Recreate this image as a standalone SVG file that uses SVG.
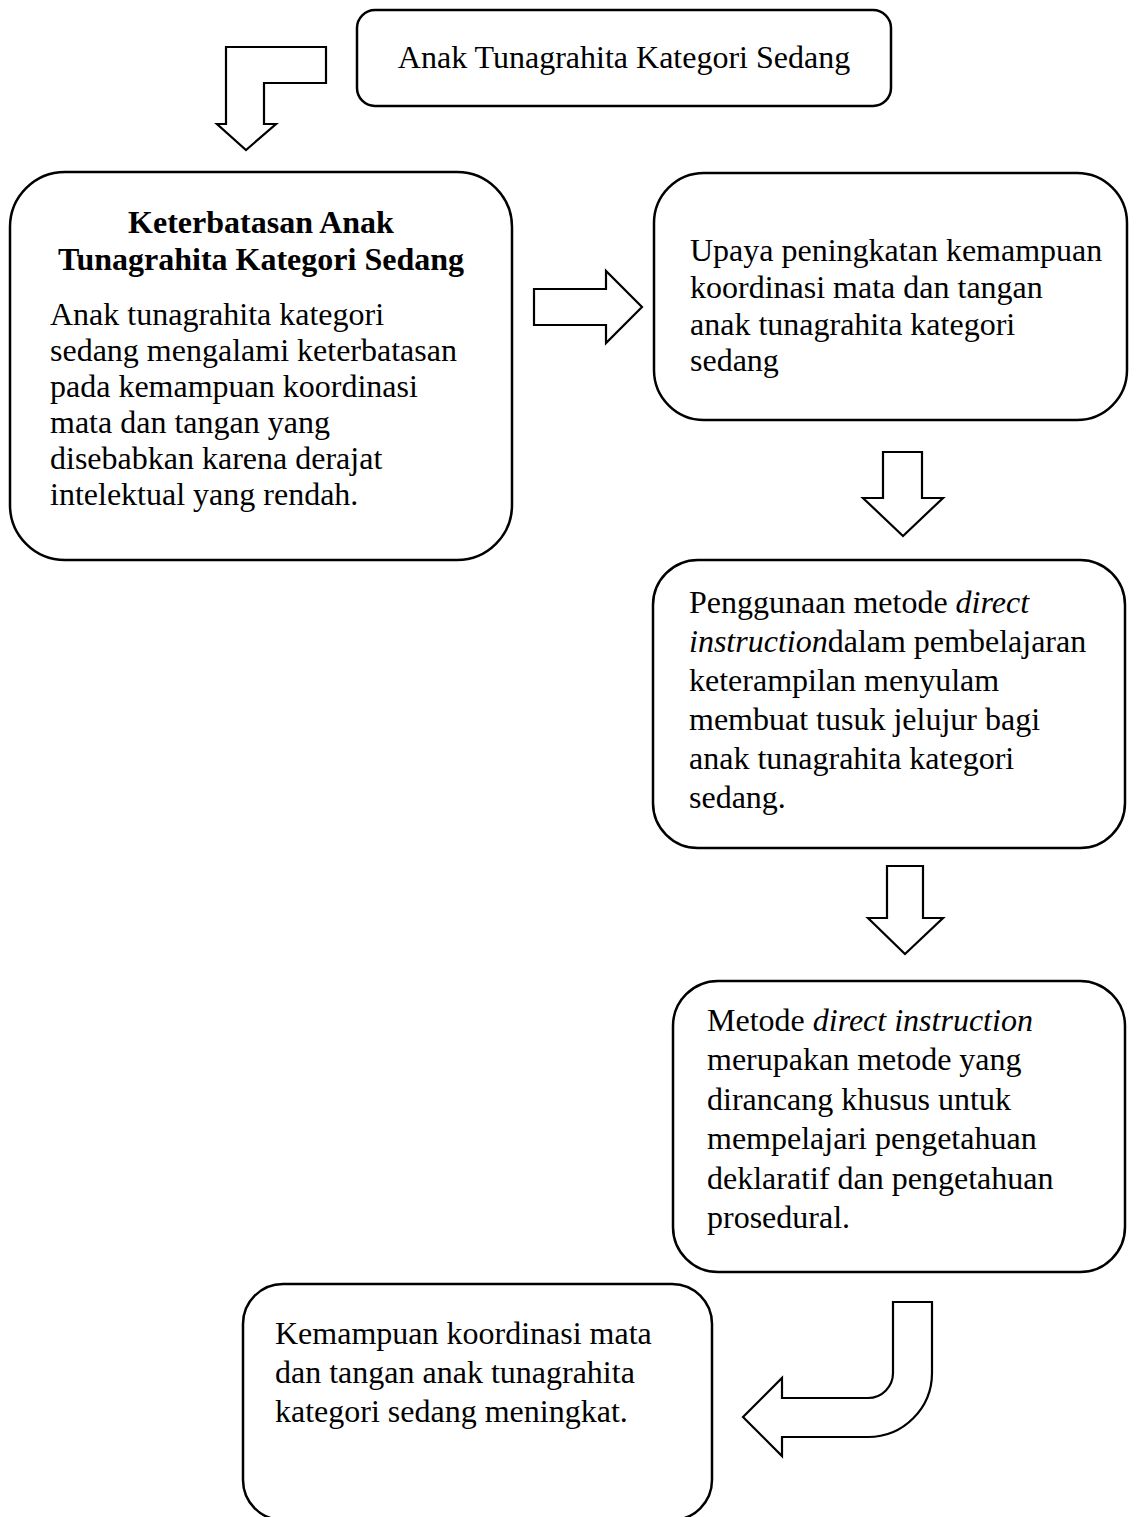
<svg xmlns="http://www.w3.org/2000/svg" width="1138" height="1517" viewBox="0 0 1138 1517">
<style>
.box{fill:#fff;stroke:#000;stroke-width:2.5}
.arr{fill:#fff;stroke:#000;stroke-width:2.2;stroke-linejoin:miter}
text{font-family:"Liberation Serif","Times New Roman",serif;font-size:32px;fill:#000}
.b{font-weight:bold}
.i{font-style:italic}
</style>
<rect width="1138" height="1517" fill="#fff"/>
<g id="connectors">
<path class="arr" d="M226,47 H326 V83 H264 V124 H276 L246,150 L217,124 H226 Z"/>
<path class="arr" d="M534,289 H606 V271 L642,307 L606,343 V325 H534 Z"/>
<path class="arr" d="M883,452 H922 V498 H943 L903,536 L863,498 H883 Z"/>
<path class="arr" d="M887,866 H923 V918 H943 L905,954 L868,918 H887 Z"/>
<path class="arr" d="M893,1302 H932 V1373 A64,64 0 0 1 868,1437 H782 V1456 L743,1417 L782,1378 V1398 H868 A25,25 0 0 0 893,1373 Z"/>
</g>
<g id="node-top">
<rect class="box" x="357" y="10" width="534" height="96" rx="18"/>
<text x="624" y="68" text-anchor="middle">Anak Tunagrahita Kategori Sedang</text>
</g>
<g id="node-keterbatasan">
<rect class="box" x="10" y="172" width="502" height="388" rx="55"/>
<text class="b" x="261" y="233" text-anchor="middle">Keterbatasan Anak</text>
<text class="b" x="261" y="270" text-anchor="middle">Tunagrahita Kategori Sedang</text>
<text x="50" y="325">Anak tunagrahita kategori</text>
<text x="50" y="361">sedang mengalami keterbatasan</text>
<text x="50" y="397">pada kemampuan koordinasi</text>
<text x="50" y="433">mata dan tangan yang</text>
<text x="50" y="469">disebabkan karena derajat</text>
<text x="50" y="505">intelektual yang rendah.</text>
</g>
<g id="node-upaya">
<rect class="box" x="654" y="173" width="473" height="247" rx="50"/>
<text x="690" y="261">Upaya peningkatan kemampuan</text>
<text x="690" y="298">koordinasi mata dan tangan</text>
<text x="690" y="335">anak tunagrahita kategori</text>
<text x="690" y="371">sedang</text>
</g>
<g id="node-penggunaan">
<rect class="box" x="653" y="560" width="472" height="288" rx="45"/>
<text x="689" y="613">Penggunaan metode <tspan class="i">direct</tspan></text>
<text x="689" y="652"><tspan class="i">instruction</tspan>dalam pembelajaran</text>
<text x="689" y="691">keterampilan menyulam</text>
<text x="689" y="730">membuat tusuk jelujur bagi</text>
<text x="689" y="769">anak tunagrahita kategori</text>
<text x="689" y="808">sedang.</text>
</g>
<g id="node-metode">
<rect class="box" x="673" y="981" width="452" height="291" rx="45"/>
<text x="707" y="1031">Metode <tspan class="i">direct instruction</tspan></text>
<text x="707" y="1070">merupakan metode yang</text>
<text x="707" y="1110">dirancang khusus untuk</text>
<text x="707" y="1149">mempelajari pengetahuan</text>
<text x="707" y="1189">deklaratif dan pengetahuan</text>
<text x="707" y="1228">prosedural.</text>
</g>
<g id="node-hasil">
<rect class="box" x="243" y="1284" width="469" height="236" rx="40"/>
<text x="275" y="1344">Kemampuan koordinasi mata</text>
<text x="275" y="1383">dan tangan anak tunagrahita</text>
<text x="275" y="1422">kategori sedang meningkat.</text>
</g>
</svg>
